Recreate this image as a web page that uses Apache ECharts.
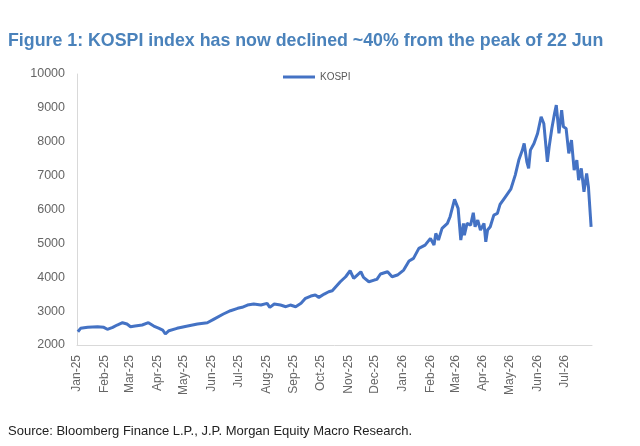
<!DOCTYPE html>
<html>
<head>
	<meta charset="UTF-8">
	<title>KOSPI</title>
	<script src="https://cdn.jsdelivr.net/npm/echarts@6/dist/echarts.min.js"></script>
	<style>
		body { margin: 0; background: #fff; }
	</style>
</head>
<body>
<div id="main" style="width: 640px;height:446px;"></div>
<script type="text/javascript">
	// 读图估计的 KOSPI 数据
	var dates = [
		'2025-01-02', '2025-01-05', '2025-01-13', '2025-01-24', '2025-01-31', '2025-02-04', '2025-02-10', '2025-02-15',
		'2025-02-21', '2025-02-26', '2025-03-02', '2025-03-07', '2025-03-15', '2025-03-22', '2025-03-28', '2025-04-03',
		'2025-04-07', '2025-04-10', '2025-04-14', '2025-04-23', '2025-05-05', '2025-05-16', '2025-05-27', '2025-06-03',
		'2025-06-14', '2025-06-22', '2025-06-30', '2025-07-05', '2025-07-11', '2025-07-18', '2025-07-26', '2025-08-02',
		'2025-08-05', '2025-08-10', '2025-08-17', '2025-08-23', '2025-08-28', '2025-09-03', '2025-09-09', '2025-09-14',
		'2025-09-20', '2025-09-25', '2025-09-29', '2025-10-05', '2025-10-10', '2025-10-14', '2025-10-18', '2025-10-23',
		'2025-10-29', '2025-11-03', '2025-11-07', '2025-11-11', '2025-11-15', '2025-11-18', '2025-11-24', '2025-11-30',
		'2025-12-03', '2025-12-07', '2025-12-15', '2025-12-20', '2025-12-26', '2026-01-02', '2026-01-08', '2026-01-13',
		'2026-01-19', '2026-01-26', '2026-02-01', '2026-02-05', '2026-02-07', '2026-02-10', '2026-02-14', '2026-02-20',
		'2026-02-23', '2026-02-28', '2026-03-04', '2026-03-07', '2026-03-10', '2026-03-11', '2026-03-14', '2026-03-18',
		'2026-03-21', '2026-03-23', '2026-03-26', '2026-03-29', '2026-04-02', '2026-04-04', '2026-04-06', '2026-04-09',
		'2026-04-13', '2026-04-17', '2026-04-20', '2026-04-26', '2026-05-02', '2026-05-07', '2026-05-11', '2026-05-15',
		'2026-05-17', '2026-05-20', '2026-05-22', '2026-05-24', '2026-05-28', '2026-06-01', '2026-06-05', '2026-06-08',
		'2026-06-12', '2026-06-14', '2026-06-17', '2026-06-20', '2026-06-22', '2026-06-25', '2026-06-28', '2026-06-30',
		'2026-07-03', '2026-07-06', '2026-07-09', '2026-07-12', '2026-07-15', '2026-07-17', '2026-07-20', '2026-07-23',
		'2026-07-26', '2026-07-28', '2026-07-30', '2026-07-31'
	];
	var kospi = [
		2392, 2492, 2522, 2540, 2522, 2463, 2522, 2590,
		2658, 2620, 2540, 2560, 2590, 2658, 2560, 2492,
		2442, 2325, 2422, 2492, 2560, 2620, 2658, 2758,
		2915, 3012, 3083, 3112, 3180, 3210, 3180, 3230,
		3112, 3210, 3180, 3130, 3180, 3130, 3230, 3378,
		3445, 3475, 3406, 3504, 3573, 3602, 3720, 3867,
		4015, 4192, 3966, 4065, 4162, 3996, 3867, 3917,
		3937, 4095, 4162, 4015, 4065, 4212, 4480, 4557,
		4852, 4950, 5147, 4950, 5295, 5098, 5442, 5590,
		5787, 6298, 6033, 5098, 5590, 5245, 5590, 5540,
		5903, 5490, 5688, 5393, 5590, 5048, 5393, 5490,
		5835, 5885, 6150, 6375, 6600, 7015, 7458, 7753,
		7950, 7409, 7212, 7753, 7950, 8245, 8737, 8540,
		7409, 7851, 8392, 8835, 9080, 8245, 8933, 8441,
		8392, 7655, 8048, 7163, 7458, 6868, 7212, 6523,
		7065, 6671, 6720, 5490
	];
	var monthTicks = [
		'2025-01-01', '2025-02-01', '2025-03-01', '2025-04-01', '2025-05-01', '2025-06-01', '2025-07-01',
		'2025-08-01', '2025-09-01', '2025-10-01', '2025-11-01', '2025-12-01', '2026-01-01', '2026-02-01',
		'2026-03-01', '2026-04-01', '2026-05-01', '2026-06-01', '2026-07-01'
	];
	var monthNames = ['Jan', 'Feb', 'Mar', 'Apr', 'May', 'Jun', 'Jul', 'Aug', 'Sep', 'Oct', 'Nov', 'Dec'];

	function toTime(d) {
		return Date.UTC(+d.slice(0, 4), +d.slice(5, 7) - 1, +d.slice(8, 10));
	}

	var myChart = echarts.init(document.getElementById('main'));

	var seriesData = [];
	for (var i = 0; i < dates.length; i++) {
		seriesData.push([toTime(dates[i]), kospi[i]]);
	}
	var tickValues = monthTicks.map(toTime);

	var option = {
		animation: false,
		title: [
			{
				text: 'Figure 1: KOSPI index has now declined ~40% from the peak of 22 Jun',
				left: 3,
				top: 27,
				textStyle: {
					fontFamily: 'Liberation Sans, Arial',
					fontWeight: 'bold',
					fontSize: 17.8,
					color: '#4a82bb'
				}
			},
			{
				text: 'Source: Bloomberg Finance L.P., J.P. Morgan Equity Macro Research.',
				left: 3,
				top: 420,
				textStyle: {
					fontFamily: 'Liberation Sans, Arial',
					fontWeight: 'normal',
					fontSize: 13,
					color: '#222'
				}
			}
		],
		legend: {
			data: ['KOSPI'],
			left: 278,
			top: 67,
			itemWidth: 32,
			itemHeight: 3,
			itemGap: 3,
			icon: 'rect',
			textStyle: {
				fontFamily: 'Liberation Sans, Arial',
				fontSize: 10,
				color: '#595959'
			}
		},
		grid: {
			left: 77,
			right: 48,
			top: 74,
			bottom: 101
		},
		xAxis: {
			type: 'value',
			min: toTime('2025-01-01'),
			max: toTime('2026-08-01'),
			axisLine: { lineStyle: { color: '#d9d9d9', width: 1 } },
			axisTick: { show: false },
			splitLine: { show: false },
			axisLabel: {
				customValues: tickValues,
				rotate: 90,
				margin: 10,
				fontFamily: 'Liberation Sans, Arial',
				fontSize: 12,
				color: '#666',
				formatter: function (val) {
					var d = new Date(val);
					return monthNames[d.getUTCMonth()] + '-' + String(d.getUTCFullYear()).slice(2);
				}
			}
		},
		yAxis: {
			type: 'value',
			min: 2000,
			max: 10000,
			interval: 1000,
			axisLine: { show: true, lineStyle: { color: '#d9d9d9', width: 1 } },
			axisTick: { show: false },
			splitLine: { show: false },
			axisLabel: {
				margin: 12,
				fontFamily: 'Liberation Sans, Arial',
				fontSize: 12.5,
				color: '#666',
				formatter: function (val) { return String(val); }
			}
		},
		series: [
			{
				name: 'KOSPI',
				type: 'line',
				data: seriesData,
				showSymbol: false,
				symbol: 'none',
				itemStyle: { color: '#4472c4' },
				lineStyle: { color: '#4472c4', width: 3 }
			}
		]
	};

	myChart.setOption(option);
</script>
</body>
</html>
